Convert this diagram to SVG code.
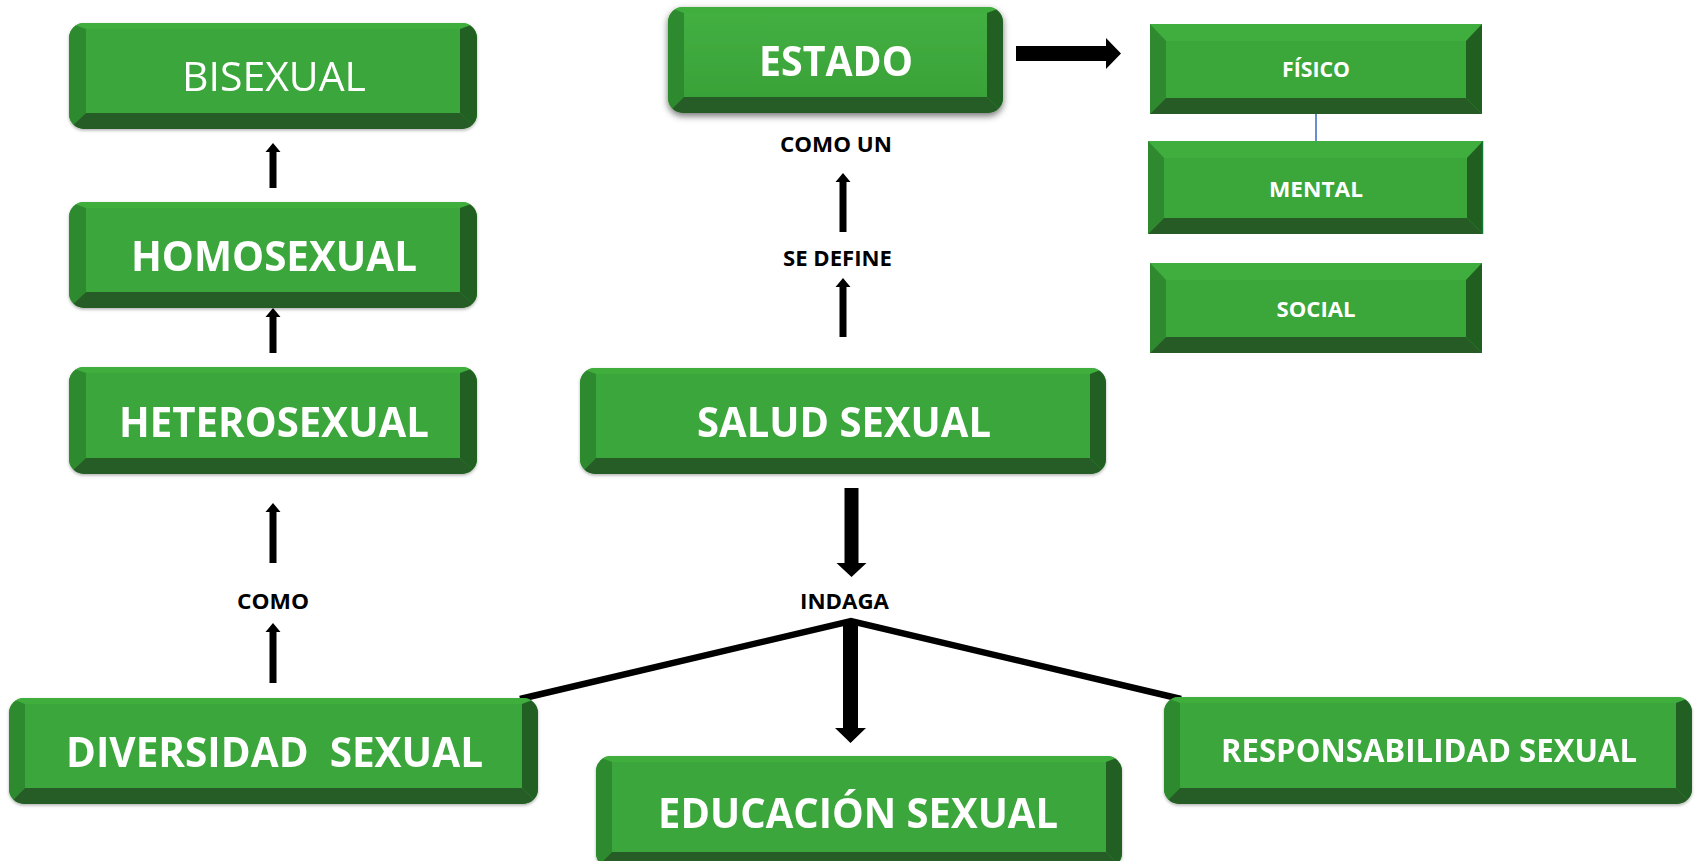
<svg xmlns="http://www.w3.org/2000/svg" width="1696" height="861" viewBox="0 0 1696 861">
<style>
.face{fill:#3ba63a}
.top{fill:#3fae3e}
.lft{fill:#2f8a2f}
.rgt{fill:#215f21}
.bot{fill:#275b26}
.nt{font-family:"Open Sans","Liberation Sans",sans-serif;font-weight:bold;fill:#ffffff;text-anchor:middle}
.nr{font-family:"Open Sans","Liberation Sans",sans-serif;font-weight:normal;fill:#ffffff;text-anchor:middle}
.lb{font-family:"Open Sans","Liberation Sans",sans-serif;font-weight:bold;fill:#000000;text-anchor:middle;font-size:22px}
.arr{fill:#000000}
.ln{fill:none;stroke:#000000;stroke-width:6.5;stroke-linejoin:miter}
</style>
<defs>
<filter id="sh" x="-5%" y="-10%" width="110%" height="130%">
<feDropShadow dx="0" dy="1.5" stdDeviation="1.5" flood-color="#000" flood-opacity="0.3"/>
</filter>
<filter id="sh2" x="-8%" y="-20%" width="116%" height="150%">
<feDropShadow dx="0" dy="3" stdDeviation="3.5" flood-color="#000" flood-opacity="0.55"/>
</filter>
<clipPath id="c1"><rect x="69" y="23" width="408" height="106" rx="15"/></clipPath>
<clipPath id="c2"><rect x="69" y="202" width="408" height="106" rx="15"/></clipPath>
<clipPath id="c3"><rect x="69" y="367" width="408" height="107" rx="15"/></clipPath>
<clipPath id="c4"><rect x="668" y="7" width="335" height="106" rx="15"/></clipPath>
<clipPath id="c5"><rect x="580" y="368" width="526" height="106" rx="15"/></clipPath>
<clipPath id="c6"><rect x="9" y="698" width="529" height="106" rx="15"/></clipPath>
<clipPath id="c7"><rect x="596" y="756" width="526" height="112" rx="15"/></clipPath>
<clipPath id="c8"><rect x="1164" y="697" width="528" height="107" rx="15"/></clipPath>
<linearGradient id="gE" x1="0" y1="0" x2="0" y2="1">
<stop offset="0" stop-color="#44b043"/>
<stop offset="1" stop-color="#37a036"/>
</linearGradient>
</defs>

<g id="connectors">
<polygon class="arr" points="273,143 280.5,152 276.5,152 276.5,188 269.5,188 269.5,152 265.5,152"/>
<polygon class="arr" points="273,308 280.5,317 276.5,317 276.5,353 269.5,353 269.5,317 265.5,317"/>
<polygon class="arr" points="273,503 280.5,512 276.5,512 276.5,563 269.5,563 269.5,512 265.5,512"/>
<polygon class="arr" points="273,623 280.5,632 276.5,632 276.5,683 269.5,683 269.5,632 265.5,632"/>
<polygon class="arr" points="843,173 850.5,182 846.5,182 846.5,232 839.5,232 839.5,182 835.5,182"/>
<polygon class="arr" points="843,278 850.5,287 846.5,287 846.5,337 839.5,337 839.5,287 835.5,287"/>
<polygon class="arr" points="844.5,488 858.5,488 858.5,563 866.5,563 851.5,577 836.5,563 844.5,563"/>
<polyline class="ln" points="520,699 851,621 1181,699"/>
<polygon class="arr" points="843,621 858,621 858,728 866,728 850.5,743 835,728 843,728"/>
<polygon class="arr" points="1016,46 1106,46 1106,38 1121,53.5 1106,69 1106,61 1016,61"/>
<line x1="1316" y1="114" x2="1316" y2="141" stroke="#4472c4" stroke-width="1.6"/>
</g>

<g id="bisexual" filter="url(#sh)">
<g clip-path="url(#c1)">
<rect class="face" x="69" y="23" width="408" height="106"/>
<polygon class="top" points="69,23 477,23 460,29 86,29"/>
<polygon class="lft" points="69,23 86,29 86,113 69,129"/>
<polygon class="rgt" points="477,23 460,29 460,113 477,129"/>
<polygon class="bot" points="69,129 86,113 460,113 477,129"/>
</g>
<text class="nr" x="274" y="91" font-size="41" textLength="184" lengthAdjust="spacingAndGlyphs">BISEXUAL</text>
</g>

<g id="homosexual" filter="url(#sh)">
<g clip-path="url(#c2)">
<rect class="face" x="69" y="202" width="408" height="106"/>
<polygon class="top" points="69,202 477,202 460,208 86,208"/>
<polygon class="lft" points="69,202 86,208 86,292 69,308"/>
<polygon class="rgt" points="477,202 460,208 460,292 477,308"/>
<polygon class="bot" points="69,308 86,292 460,292 477,308"/>
</g>
<text class="nt" x="274" y="271" font-size="42" textLength="286" lengthAdjust="spacingAndGlyphs">HOMOSEXUAL</text>
</g>

<g id="heterosexual" filter="url(#sh)">
<g clip-path="url(#c3)">
<rect class="face" x="69" y="367" width="408" height="107"/>
<polygon class="top" points="69,367 477,367 460,373 86,373"/>
<polygon class="lft" points="69,367 86,373 86,458 69,474"/>
<polygon class="rgt" points="477,367 460,373 460,458 477,474"/>
<polygon class="bot" points="69,474 86,458 460,458 477,474"/>
</g>
<text class="nt" x="274" y="437" font-size="42" textLength="310" lengthAdjust="spacingAndGlyphs">HETEROSEXUAL</text>
</g>

<g id="estado" filter="url(#sh2)">
<g clip-path="url(#c4)">
<rect x="668" y="7" width="335" height="106" fill="url(#gE)"/>
<polygon class="top" points="668,7 1003,7 987,13 684,13"/>
<polygon class="lft" points="668,7 684,13 684,97 668,113"/>
<polygon class="rgt" points="1003,7 987,13 987,97 1003,113"/>
<polygon class="bot" points="668,113 684,97 987,97 1003,113"/>
</g>
<text class="nt" x="836" y="76" font-size="42" textLength="154" lengthAdjust="spacingAndGlyphs">ESTADO</text>
</g>

<g id="salud-sexual" filter="url(#sh)">
<g clip-path="url(#c5)">
<rect class="face" x="580" y="368" width="526" height="106"/>
<polygon class="top" points="580,368 1106,368 1090,374 596,374"/>
<polygon class="lft" points="580,368 596,374 596,458 580,474"/>
<polygon class="rgt" points="1106,368 1090,374 1090,458 1106,474"/>
<polygon class="bot" points="580,474 596,458 1090,458 1106,474"/>
</g>
<text class="nt" x="844" y="437" font-size="41" textLength="294" lengthAdjust="spacingAndGlyphs">SALUD SEXUAL</text>
</g>

<g id="diversidad-sexual" filter="url(#sh)">
<g clip-path="url(#c6)">
<rect class="face" x="9" y="698" width="529" height="106"/>
<polygon class="top" points="9,698 538,698 522,704 25,704"/>
<polygon class="lft" points="9,698 25,704 25,788 9,804"/>
<polygon class="rgt" points="538,698 522,704 522,788 538,804"/>
<polygon class="bot" points="9,804 25,788 522,788 538,804"/>
</g>
<text class="nt" x="274.5" y="767" font-size="41" textLength="417" lengthAdjust="spacingAndGlyphs" xml:space="preserve">DIVERSIDAD  SEXUAL</text>
</g>

<g id="educacion-sexual" filter="url(#sh)">
<g clip-path="url(#c7)">
<rect class="face" x="596" y="756" width="526" height="112"/>
<polygon class="top" points="596,756 1122,756 1106,762 612,762"/>
<polygon class="lft" points="596,756 612,762 612,852 596,868"/>
<polygon class="rgt" points="1122,756 1106,762 1106,852 1122,868"/>
<polygon class="bot" points="596,868 612,852 1106,852 1122,868"/>
</g>
<text class="nt" x="858" y="828" font-size="42" textLength="400" lengthAdjust="spacingAndGlyphs">EDUCACIÓN SEXUAL</text>
</g>

<g id="responsabilidad-sexual" filter="url(#sh)">
<g clip-path="url(#c8)">
<rect class="face" x="1164" y="697" width="528" height="107"/>
<polygon class="top" points="1164,697 1692,697 1676,703 1180,703"/>
<polygon class="lft" points="1164,697 1180,703 1180,788 1164,804"/>
<polygon class="rgt" points="1692,697 1676,703 1676,788 1692,804"/>
<polygon class="bot" points="1164,804 1180,788 1676,788 1692,804"/>
</g>
<text class="nt" x="1429" y="762" font-size="32" textLength="416" lengthAdjust="spacingAndGlyphs">RESPONSABILIDAD SEXUAL</text>
</g>

<g id="fisico">
<rect class="face" x="1150" y="24" width="332" height="90"/>
<polygon class="top" points="1150,24 1482,24 1466,41 1166,41"/>
<polygon class="lft" points="1150,24 1166,41 1166,98 1150,114"/>
<polygon class="rgt" points="1482,24 1466,41 1466,98 1482,114"/>
<polygon class="bot" points="1150,114 1166,98 1466,98 1482,114"/>
<text class="nt" x="1316" y="77" font-size="22" textLength="68" lengthAdjust="spacingAndGlyphs">FÍSICO</text>
</g>

<g id="mental">
<rect class="face" x="1148" y="141" width="335" height="93"/>
<polygon class="top" points="1148,141 1483,141 1467,158 1164,158"/>
<polygon class="lft" points="1148,141 1164,158 1164,218 1148,234"/>
<polygon class="rgt" points="1483,141 1467,158 1467,218 1483,234"/>
<polygon class="bot" points="1148,234 1164,218 1467,218 1483,234"/>
<line x1="1482.5" y1="141" x2="1482.5" y2="234" stroke="#107a32" stroke-width="1.5"/>
<text class="nt" x="1316" y="197" font-size="22" textLength="94" lengthAdjust="spacingAndGlyphs">MENTAL</text>
</g>

<g id="social">
<rect class="face" x="1150" y="263" width="332" height="90"/>
<polygon class="top" points="1150,263 1482,263 1466,280 1166,280"/>
<polygon class="lft" points="1150,263 1166,280 1166,337 1150,353"/>
<polygon class="rgt" points="1482,263 1466,280 1466,337 1482,353"/>
<polygon class="bot" points="1150,353 1166,337 1466,337 1482,353"/>
<text class="nt" x="1316" y="317" font-size="22" textLength="79" lengthAdjust="spacingAndGlyphs">SOCIAL</text>
</g>

<g id="labels">
<text class="lb" x="836" y="152" textLength="112" lengthAdjust="spacingAndGlyphs">COMO UN</text>
<text class="lb" x="837.5" y="266" textLength="109" lengthAdjust="spacingAndGlyphs">SE DEFINE</text>
<text class="lb" x="273" y="609" textLength="72" lengthAdjust="spacingAndGlyphs">COMO</text>
<text class="lb" x="844.5" y="609" textLength="89" lengthAdjust="spacingAndGlyphs">INDAGA</text>
</g>
</svg>
